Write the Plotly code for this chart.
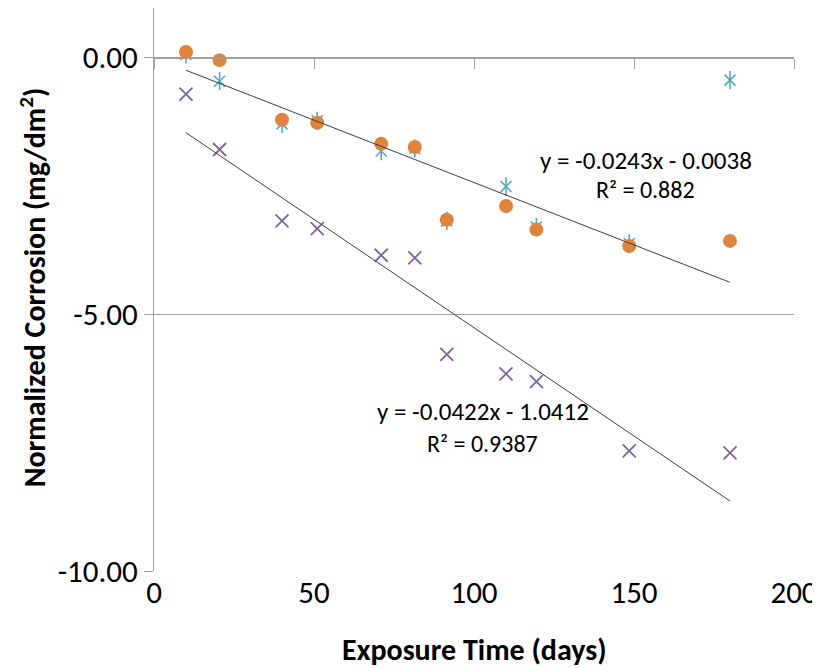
import plotly.graph_objects as go

# ---- data ----
days = [10, 20.5, 40, 51, 71, 81.5, 91.5, 110, 119.5, 148.5, 180]
orange_vals = [0.11, -0.05, -1.21, -1.27, -1.68, -1.74, -3.16, -2.89, -3.35, -3.67, -3.57]
teal_vals = [0.06, -0.46, -1.29, -1.23, -1.82, -1.77, -3.18, -2.51, -3.30, -3.62, -0.44]
purple_vals = [-0.71, -1.79, -3.18, -3.33, -3.85, -3.90, -5.78, -6.16, -6.31, -7.66, -7.70]

trend_upper = {"slope": -0.0243, "intercept": -0.0038, "r2": "0.882"}
trend_lower = {"slope": -0.0422, "intercept": -1.0412, "r2": "0.9387"}
trend_x = [10, 180]

x_ticks = [0, 50, 100, 150, 200]
y_ticks = [-10, -5, 0]
y_ticktext = ["-10.00", "-5.00", "0.00"]

FONT = "Carlito, Lato, sans-serif"
GRAY = "#9f9f9f"
ORANGE = "#E0843C"
TEAL = "#4BACC6"
PURPLE = "#8064A2"

fig = go.Figure()

# purple series
fig.add_trace(go.Scatter(x=days, y=purple_vals, mode="markers",
                         marker=dict(symbol="x-thin-open", size=13, color=PURPLE,
                                     line=dict(color=PURPLE, width=1.8)),
                         showlegend=False))
# teal star = x + vertical bar
fig.add_trace(go.Scatter(x=days, y=teal_vals, mode="markers",
                         marker=dict(symbol="x-thin-open", size=11, color=TEAL,
                                     line=dict(color=TEAL, width=1.6)),
                         showlegend=False))
fig.add_trace(go.Scatter(x=days, y=teal_vals, mode="markers",
                         marker=dict(symbol="line-ns-open", size=13, color=TEAL,
                                     line=dict(color=TEAL, width=1.6)),
                         showlegend=False))
# orange circles
fig.add_trace(go.Scatter(x=days, y=orange_vals, mode="markers",
                         marker=dict(symbol="circle", size=14, color=ORANGE),
                         showlegend=False))

# trendlines
for tr in (trend_upper, trend_lower):
    fig.add_trace(go.Scatter(x=trend_x,
                             y=[tr["slope"] * v + tr["intercept"] for v in trend_x],
                             mode="lines", line=dict(color="#404040", width=1),
                             xaxis="x2", showlegend=False, hoverinfo="skip"))

ymin, ymax = -10, 0.966

fig.update_layout(
    width=820, height=668,
    margin=dict(l=146, r=34, t=0, b=105),
    paper_bgcolor="white", plot_bgcolor="white",
    font=dict(family=FONT, size=24, color="black"),
    xaxis=dict(range=[0, 200], tickvals=x_ticks, showgrid=False, zeroline=False,
               showline=False, ticks="", tickfont=dict(size=31)),
    xaxis2=dict(range=[0, 200], overlaying="x", anchor="free",
                position=(0 - ymin) / (ymax - ymin), side="bottom",
                tickvals=x_ticks, showticklabels=False, showgrid=False,
                zeroline=False, showline=True, linecolor=GRAY, linewidth=1,
                ticks="outside", ticklen=10, tickcolor=GRAY, tickwidth=1),
    yaxis=dict(range=[ymin, ymax], tickvals=y_ticks, ticktext=y_ticktext,
               showgrid=True, gridcolor=GRAY, gridwidth=1, zeroline=False,
               showline=True, linecolor=GRAY, linewidth=1,
               ticks="outside", ticklen=9, tickcolor=GRAY,
               tickfont=dict(size=31)),
)

for tr, xc, ye, yr in ((trend_upper, 153.7, -2.01, -2.57),
                       (trend_lower, 102.7, -6.90, -7.51)):
    fig.add_annotation(x=xc, y=ye, text=f"y = {tr['slope']}x - {abs(tr['intercept'])}",
                       showarrow=False, font=dict(size=25))
    fig.add_annotation(x=xc, y=yr, text=f"R² = {tr['r2']}",
                       showarrow=False, font=dict(size=24))

# axis titles
fig.add_annotation(xref="paper", yref="paper", x=-0.189, y=0.504,
                   xanchor="center", yanchor="middle",
                   text="<b>Normalized Corrosion (mg/dm<sup>2</sup>)</b>",
                   textangle=-90, showarrow=False, font=dict(size=30))
fig.add_annotation(xref="paper", yref="paper", x=0.5, y=-0.139,
                   xanchor="center", yanchor="middle",
                   text="<b>Exposure Time (days)</b>", showarrow=False,
                   font=dict(size=30))

fig.write_html("out.html")
